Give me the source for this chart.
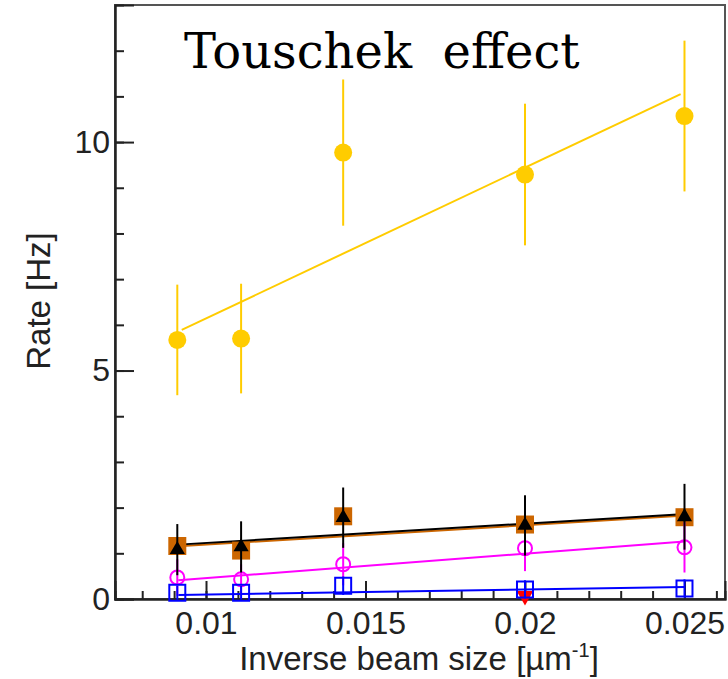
<!DOCTYPE html>
<html>
<head>
<meta charset="utf-8">
<script src="https://cdn.jsdelivr.net/npm/d3@7"></script>
<style>
  body { margin: 0; background: #fff; }
  svg { display: block; }
</style>
</head>
<body>
<div id="chart"></div>
<script>
"use strict";
//x is the inverse beam size in 1/um, same for every series
var beamX = [0.0091, 0.0111, 0.0143, 0.0200, 0.0250];

var yellowRate = [5.67, 5.70, 9.77, 9.29, 10.57];
var yellowErr = [1.21, 1.2, 1.6, 1.55, 1.65];
var orangeRate = [1.16, 1.06, 1.81, 1.63, 1.79];
var blackRate = [1.08, 1.14, 1.78, 1.61, 1.80];
var blackErr = [0.56, 0.56, 0.66, 0.66, 0.72];
var magentaRate = [0.47, 0.43, 0.76, 1.11, 1.13];
var magentaErr = [0.4, 0.33, 0.46, 0.5, 0.55];
var blueRate = [0.135, 0.135, 0.29, 0.21, 0.23];
var blueErr = [0.15, 0.15, 0.2, 0.2, 0.2];
var redX = [0.0200];
var redRate = [0.07];

//linear fits, first and last point of each line
var yellowFit = [[0.00924, 5.89], [0.02488, 11.05]];
var orangeFit = [[0.00913, 1.155], [0.02491, 1.82]];
var blackFit = [[0.00913, 1.19], [0.02491, 1.855]];
var magentaFit = [[0.00913, 0.41], [0.0250, 1.26]];
var blueFit = [[0.00913, 0.09], [0.0250, 0.265]];

var xMajor = [0.01, 0.015, 0.02, 0.025];
var xTickLabels = ["0.01", "0.015", "0.02", "0.025"];
var yMajor = [0, 5, 10];
var yTickLabels = ["0", "5", "10"];

var w = 728,
  h = 679;
var padLeft = 115,
  padRight = 725,
  padTop = 5,
  padBottom = 599;

var x = d3
  .scaleLinear()
  .domain([0.007147, 0.02627])
  .range([padLeft, padRight]);
var y = d3
  .scaleLinear()
  .domain([0, 13])
  .range([padBottom, padTop]);

var svg = d3
  .select("#chart")
  .append("svg")
  .attr("width", w)
  .attr("height", h);

svg
  .append("rect")
  .attr("width", w)
  .attr("height", h)
  .attr("fill", "#fff");

//frame around the pad
svg
  .append("rect")
  .attr("x", padLeft)
  .attr("y", padTop)
  .attr("width", padRight - padLeft)
  .attr("height", padBottom - padTop)
  .attr("fill", "none")
  .attr("stroke", "#555")
  .attr("stroke-width", 2);

var tickFont = "'Liberation Sans', Arial, Helvetica, sans-serif";

//minor ticks first, then the labelled ones
svg
  .append("g")
  .attr("transform", "translate(0," + padBottom + ")")
  .call(
    d3
      .axisBottom(x)
      .tickValues(d3.range(0.008, 0.0265, 0.001))
      .tickSize(-8)
      .tickFormat("")
  )
  .call(styleAxis);

svg
  .append("g")
  .attr("transform", "translate(0," + padBottom + ")")
  .call(
    d3
      .axisBottom(x)
      .tickValues(xMajor)
      .tickSize(-18)
      .tickPadding(12)
      .tickFormat(function(d, i) {
        return xTickLabels[i];
      })
  )
  .call(styleAxis);

svg
  .append("g")
  .attr("transform", "translate(" + padLeft + ",0)")
  .call(
    d3
      .axisLeft(y)
      .tickValues(d3.range(1, 13))
      .tickSize(-9)
      .tickFormat("")
  )
  .call(styleAxis);

svg
  .append("g")
  .attr("transform", "translate(" + padLeft + ",0)")
  .call(
    d3
      .axisLeft(y)
      .tickValues(yMajor)
      .tickSize(-19)
      .tickPadding(5)
      .tickFormat(function(d, i) {
        return yTickLabels[i];
      })
  )
  .call(styleAxis);

function styleAxis(g) {
  g.select(".domain")
    .attr("stroke", "#222")
    .attr("stroke-width", 2);
  g.selectAll(".tick line")
    .attr("stroke", "#222")
    .attr("stroke-width", 2);
  g.selectAll(".tick text")
    .attr("fill", "#222")
    .style("font-family", tickFont)
    .style("font-size", "32px");
}

//axis titles
var xTitle = svg
  .append("text")
  .attr("x", 419)
  .attr("y", 670)
  .attr("text-anchor", "middle")
  .attr("fill", "#222")
  .style("font-family", tickFont)
  .style("font-size", "33px");
xTitle.append("tspan").text("Inverse beam size [\u00b5m");
xTitle
  .append("tspan")
  .attr("dy", -13)
  .style("font-size", "20px")
  .text("-1");
xTitle
  .append("tspan")
  .attr("dy", 13)
  .text("]");

svg
  .append("text")
  .attr("transform", "translate(50,301) rotate(-90)")
  .attr("text-anchor", "middle")
  .attr("fill", "#222")
  .style("font-family", tickFont)
  .style("font-size", "33px")
  .text("Rate [Hz]");

svg
  .append("text")
  .attr("x", 184)
  .attr("y", 68)
  .style("white-space", "pre")
  .style("font-family", "'DejaVu Serif', serif")
  .style("font-size", "48px")
  .attr("fill", "#000")
  .text("Touschek  effect");

var fitLine = d3
  .line()
  .x(function(d) {
    return x(d[0]);
  })
  .y(function(d) {
    return y(d[1]);
  });

function drawFit(pts, color) {
  svg
    .append("path")
    .datum(pts)
    .attr("d", fitLine)
    .attr("fill", "none")
    .attr("stroke", color)
    .attr("stroke-width", 2);
}

function pointsOf(xs, ys, errs) {
  return xs.map(function(v, i) {
    return { x: v, y: ys[i], e: errs ? errs[i] : 0 };
  });
}

function drawErrors(pts, color) {
  svg
    .append("g")
    .selectAll("line")
    .data(pts)
    .enter()
    .append("line")
    .attr("x1", function(d) {
      return x(d.x);
    })
    .attr("x2", function(d) {
      return x(d.x);
    })
    .attr("y1", function(d) {
      return y(d.y - d.e);
    })
    .attr("y2", function(d) {
      return y(d.y + d.e);
    })
    .attr("stroke", color)
    .attr("stroke-width", 2);
}

//symbol markers, rot 180 gives the down triangle
function drawMarkers(pts, type, size, fill, stroke, rot) {
  svg
    .append("g")
    .selectAll("path")
    .data(pts)
    .enter()
    .append("path")
    .attr("d", d3.symbol(type, size))
    .attr("transform", function(d) {
      return (
        "translate(" + x(d.x) + "," + y(d.y) + ")" + (rot ? " rotate(" + rot + ")" : "")
      );
    })
    .attr("fill", fill)
    .attr("stroke", stroke)
    .attr("stroke-width", stroke == "none" ? 0 : 2);
}

drawFit(yellowFit, "#ffcc00");
drawFit(orangeFit, "#cc6600");
drawFit(blackFit, "#000");
drawFit(magentaFit, "#ff00ff");
drawFit(blueFit, "#0000ff");

var yellowPts = pointsOf(beamX, yellowRate, yellowErr);
drawErrors(yellowPts, "#ffcc00");
drawMarkers(yellowPts, d3.symbolCircle, Math.PI * 81, "#ffcc00", "none");

var orangePts = pointsOf(beamX, orangeRate);
drawMarkers(orangePts, d3.symbolSquare, 18 * 18, "#cc6600", "none");

var magentaPts = pointsOf(beamX, magentaRate, magentaErr);
drawErrors(magentaPts, "#ff00ff");
drawMarkers(magentaPts, d3.symbolCircle, Math.PI * 49, "none", "#ff00ff");

var blackPts = pointsOf(beamX, blackRate, blackErr);
drawErrors(blackPts, "#000");
drawMarkers(blackPts, d3.symbolTriangle, 100, "#000", "none");

var redPts = pointsOf(redX, redRate);
drawMarkers(redPts, d3.symbolTriangle, 120, "#ff0000", "none", 180);

var bluePts = pointsOf(beamX, blueRate, blueErr);
drawErrors(bluePts, "#0000ff");
drawMarkers(bluePts, d3.symbolSquare, 16 * 16, "none", "#0000ff");
</script>
</body>
</html>
